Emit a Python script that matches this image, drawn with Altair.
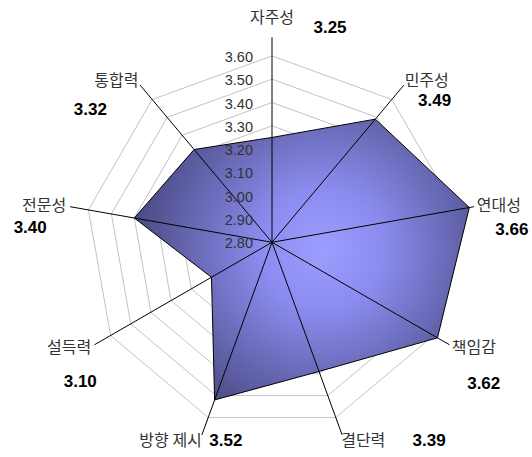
import math
import altair as alt
import pandas as pd

# ---------------- data ----------------
categories = ["자주성", "민주성", "연대성", "책임감", "결단력", "방향 제시", "설득력", "전문성", "통합력"]
scores = [3.25, 3.49, 3.66, 3.62, 3.39, 3.52, 3.10, 3.40, 3.32]
score_labels = ["3.25", "3.49", "3.66", "3.62", "3.39", "3.52", "3.10", "3.40", "3.32"]
ring_levels = [2.90, 3.00, 3.10, 3.20, 3.30, 3.40, 3.50, 3.60]
tick_values = [2.80, 2.90, 3.00, 3.10, 3.20, 3.30, 3.40, 3.50, 3.60]
tick_labels = ["2.80", "2.90", "3.00", "3.10", "3.20", "3.30", "3.40", "3.50", "3.60"]
axis_min = 2.80

# ---------------- layout ----------------
W, H = 532, 457
PX_PER_UNIT = 233.0
CX, CY = 272.0, 242.3
x_dom = [-CX / PX_PER_UNIT, (W - CX) / PX_PER_UNIT]
y_dom = [-(H - CY) / PX_PER_UNIT, CY / PX_PER_UNIT]
spoke_len = 0.88          # in value units beyond axis_min
label_r = 211 / PX_PER_UNIT
# pixel nudges of the bold value labels relative to the category label anchor
value_nudge = [(58, -3), (27, 20), (32, 24), (29, 36), (85, 0), (26, 0), (-9, 34), (-34, 22), (-46, 29)]

N = len(categories)
X = alt.X("x:Q", scale=alt.Scale(domain=x_dom, nice=False, zero=False), axis=None)
Y = alt.Y("y:Q", scale=alt.Scale(domain=y_dom, nice=False, zero=False), axis=None)

ANG = f"datum.i * 2 * PI / {N}"

cat_df = pd.DataFrame({"i": list(range(N)), "cat": categories, "value": scores, "vlabel": score_labels})

# grid rings
ring_rows = [{"level": lv, "i": i} for lv in ring_levels for i in range(N)]
rings = alt.Chart(pd.DataFrame(ring_rows)).transform_calculate(
    a=ANG, r=f"datum.level - {axis_min}",
    x="datum.r * sin(datum.a)", y="datum.r * cos(datum.a)"
).mark_line(interpolate="linear-closed", stroke="#c3c3c3", strokeWidth=1).encode(
    x=X, y=Y, detail="level:N", order="i:Q"
)

gradient = alt.RadialGradient(
    gradient="radial",
    stops=[
        alt.GradientStop(color="#9e9eff", offset=0),
        alt.GradientStop(color="#8c8cf0", offset=0.3),
        alt.GradientStop(color="#6262aa", offset=0.7),
        alt.GradientStop(color="#44447a", offset=1),
    ],
    x1=0.56, y1=0.47, r1=0, x2=0.56, y2=0.47, r2=0.6,
)

poly = alt.Chart(cat_df).transform_calculate(
    a=ANG, r=f"datum.value - {axis_min}",
    x="datum.r * sin(datum.a)", y="datum.r * cos(datum.a)"
).mark_line(interpolate="linear-closed", fill=gradient, stroke="black", strokeWidth=1).encode(
    x=X, y=Y, order="i:Q"
)

spokes = alt.Chart(cat_df).transform_calculate(
    a=ANG, x0="0", y0="0",
    x=f"{spoke_len} * sin(datum.a)", y=f"{spoke_len} * cos(datum.a)"
).mark_rule(color="black", strokeWidth=1).encode(
    x=alt.X("x0:Q", scale=alt.Scale(domain=x_dom, nice=False, zero=False), axis=None),
    y=alt.Y("y0:Q", scale=alt.Scale(domain=y_dom, nice=False, zero=False), axis=None),
    x2="x:Q", y2="y:Q",
)

ticks = alt.Chart(pd.DataFrame({"v": tick_values, "t": tick_labels})).transform_calculate(
    x=f"{-19 / PX_PER_UNIT}", y=f"datum.v - {axis_min}"
).mark_text(align="right", baseline="middle", dy=2, font="Liberation Sans", fontSize=14.5, color="#333333").encode(
    x=X, y=Y, text="t:N"
)

anchor = alt.Chart(cat_df).transform_calculate(
    a=ANG, x=f"{label_r} * sin(datum.a)", y=f"{label_r} * cos(datum.a)", s="sin(datum.a)"
)
cat_font = dict(font="Noto Sans CJK KR", fontSize=16, color="#333333")
cat_center = anchor.transform_filter("abs(datum.s) < 0.01").mark_text(
    align="center", baseline="bottom", dy=-5, **cat_font).encode(x=X, y=Y, text="cat:N")
cat_left = anchor.transform_filter("datum.s >= 0.01").mark_text(
    align="left", baseline="middle", dx=-3, **cat_font).encode(x=X, y=Y, text="cat:N")
cat_right = anchor.transform_filter("datum.s <= -0.01").mark_text(
    align="right", baseline="middle", dx=2, **cat_font).encode(x=X, y=Y, text="cat:N")

value_layers = []
for k in range(N):
    dx, dy = value_nudge[k]
    value_layers.append(
        anchor.transform_filter(f"datum.i == {k}").mark_text(
            align="center", baseline="middle", dx=dx, dy=dy,
            font="Liberation Sans", fontSize=17, fontWeight="bold", color="black"
        ).encode(x=X, y=Y, text="vlabel:N")
    )

chart = alt.layer(
    rings, poly, spokes, ticks, cat_center, cat_left, cat_right, *value_layers
).properties(
    width=W, height=H, autosize=alt.AutoSizeParams(type="none"), padding=0, background="white"
).configure_view(stroke=None)

chart.save("out.html", embed_options={"renderer": "svg", "actions": False})
